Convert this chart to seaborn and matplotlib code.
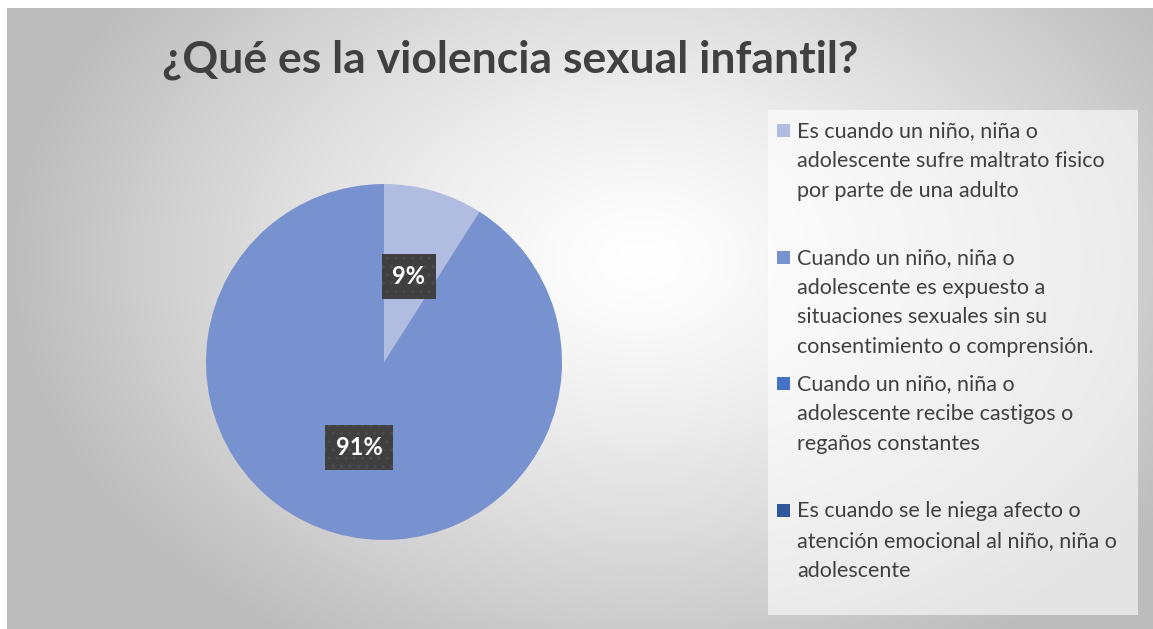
import numpy as np
import matplotlib
matplotlib.use("Agg")
import matplotlib.pyplot as plt
import seaborn as sns
from matplotlib.patches import Rectangle

# ---------------- data ----------------
title = "¿Qué es la violencia sexual infantil?"
categories = [
    "Es cuando un niño, niña o\nadolescente sufre maltrato fisico\npor parte de una adulto",
    "Cuando un niño, niña o\nadolescente es expuesto a\nsituaciones sexuales sin su\nconsentimiento o comprensión.",
    "Cuando un niño, niña o\nadolescente recibe castigos o\nregaños constantes",
    "Es cuando se le niega afecto o\natención emocional al niño, niña o\nadolescente",
]
values = [9, 91, 0, 0]
colors = ["#b1bde0", "#7891cf", "#4472c4", "#30569b"]

# ---------------- style ----------------
sns.set_theme(style="white")
plt.rcParams['font.family'] = ['Lato', 'DejaVu Sans']
TEXT = "#404040"

W, H = 1153, 629
fig = plt.figure(figsize=(W / 100, H / 100), dpi=100)
fig.patch.set_facecolor("white")

# background axes in pixel coordinates
bg = fig.add_axes([0, 0, 1, 1])
bg.set_xlim(0, W)
bg.set_ylim(H, 0)
bg.axis("off")

# radial gradient of the chart area
x0, y0 = 7, 8
yy, xx = np.mgrid[y0:H, x0:W]
cx, cy = 640, 260
r = np.sqrt(((xx - cx) / 700.0) ** 2 + ((yy - cy) / 500.0) ** 2)
v = np.clip(1.0 - 0.30 * r ** 1.3, 0.74, 1.0)
img = np.dstack([v, v, v])
bg.imshow(img, extent=[x0, W, H, y0], aspect="auto", interpolation="bilinear", zorder=0)

# title
bg.text(510, 72, title, ha="center", va="baseline", fontsize=32, fontweight="bold",
        color=TEXT, zorder=3)

# legend background
bg.add_patch(Rectangle((768, 110), 370, 505, facecolor="white", alpha=0.6,
                       edgecolor="none", zorder=1))

# legend entries
base0, step, lstep = 137, 126.7, 29.8
for i, (lab, col) in enumerate(zip(categories, colors)):
    b = base0 + i * step
    bg.add_patch(Rectangle((777, b - 13), 13, 13, facecolor=col, edgecolor="none", zorder=2))
    for j, line in enumerate(lab.split("\n")):
        bg.text(797, b + j * lstep, line, ha="left", va="baseline", fontsize=15.5,
                color=TEXT, zorder=3)

# pie
ax = fig.add_axes([206 / W, (H - 540) / H, 356 / W, 356 / H])
ax.set_facecolor("none")


def fmt(p):
    return f"{p:.0f}%" if p > 0.5 else ""


wedges, texts, autotexts = ax.pie(
    values, colors=colors, startangle=90, counterclock=False, radius=1,
    autopct=fmt, pctdistance=0.5,
    wedgeprops=dict(linewidth=0, edgecolor="none"),
    textprops=dict(color="white", fontsize=17, fontweight="bold"),
)
for t in autotexts:
    if t.get_text():
        t.set_bbox(dict(boxstyle="square,pad=0.45", facecolor="#404040",
                        edgecolor="#4c4c4c", hatch="..", linewidth=0))
ax.set_xlim(-1, 1)
ax.set_ylim(-1, 1)
ax.set_aspect("equal")
ax.axis("off")

fig.savefig("out.png", dpi=100)
